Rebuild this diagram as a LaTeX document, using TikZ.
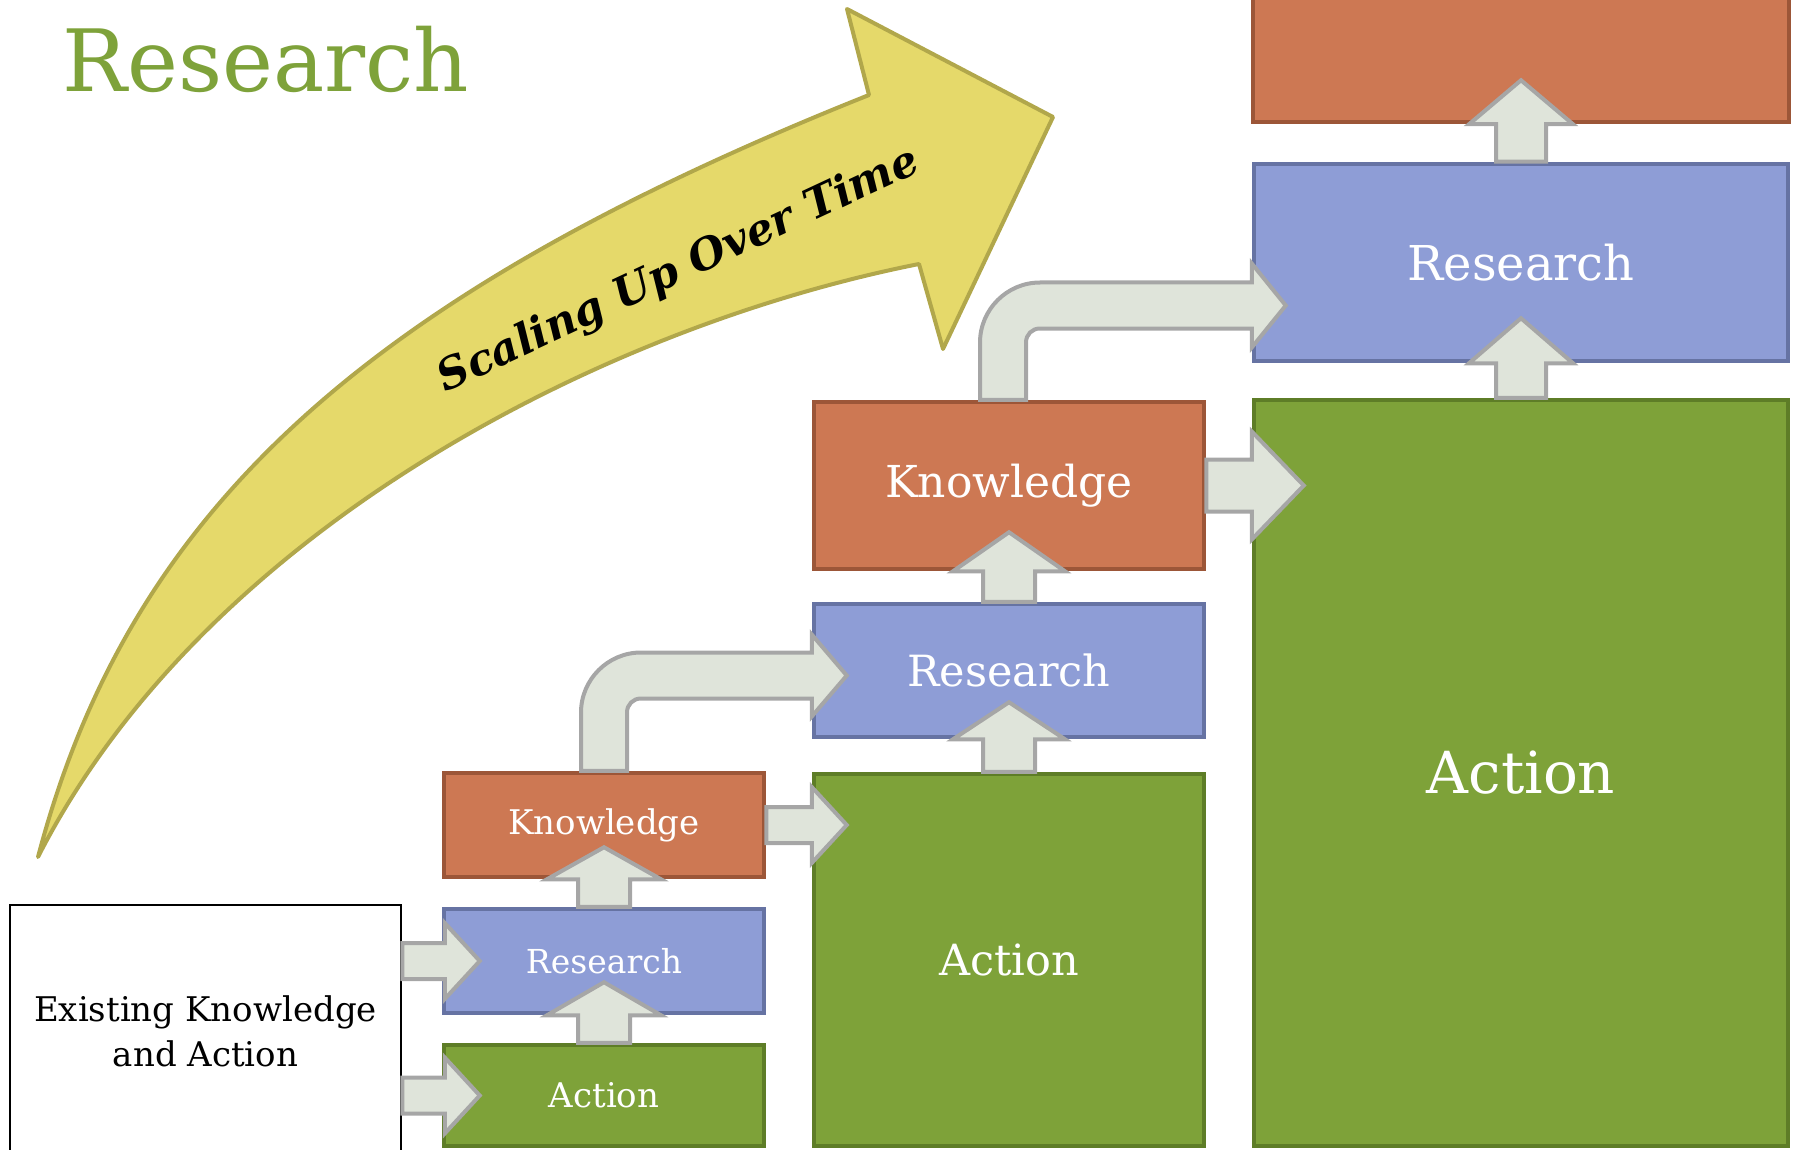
\documentclass[tikz,border=0pt]{standalone}
\usepackage{fontspec}
\setmainfont{DejaVu Serif}
\usetikzlibrary{calc, positioning}
\definecolor{actfill}{HTML}{7EA239}
\definecolor{actline}{HTML}{5E7D27}
\definecolor{resfill}{HTML}{8E9DD6}
\definecolor{resline}{HTML}{6673A3}
\definecolor{knowfill}{HTML}{CD7853}
\definecolor{knowline}{HTML}{9C5638}
\definecolor{arrfill}{HTML}{DFE4DA}
\definecolor{arrline}{HTML}{A6A6A6}
\definecolor{bigfill}{HTML}{E5D96A}
\definecolor{bigline}{HTML}{B1A74B}
\definecolor{titlegreen}{HTML}{7EA23A}
\tikzset{
        box/.style={draw, line width=4.5, inner sep=0pt, text=white, align=center}, % coloured boxes
        action/.style={box, fill=actfill, draw=actline},
        research/.style={box, fill=resfill, draw=resline},
        knowledge/.style={box, fill=knowfill, draw=knowline},
        boxsize/.style 2 args={minimum width=#1, minimum height=#2},
        txt/.style={font=\fontsize{#1}{#1}\selectfont},
        blockarrow/.style={fill=arrfill, draw=arrline, line width=4}, % grey block arrows
}
% block arrows: start, tip, shaft half width, head half width, head length
\newcommand{\blockup}[5]{%
  \draw[blockarrow] ($(#1)+(-#3,0)$) -- ($(#2)+(-#3,#5)$) -- ($(#2)+(-#4,#5)$) -- (#2)
    -- ($(#2)+(#4,#5)$) -- ($(#2)+(#3,#5)$) -- ($(#1)+(#3,0)$) -- cycle;}
\newcommand{\blockright}[5]{%
  \draw[blockarrow] ($(#1)+(0,-#3)$) -- ($(#2)+(-#5,-#3)$) -- ($(#2)+(-#5,-#4)$) -- (#2)
    -- ($(#2)+(-#5,#4)$) -- ($(#2)+(-#5,#3)$) -- ($(#1)+(0,#3)$) -- cycle;}
\newcommand{\blockbend}[5]{%
  \coordinate (bc) at (#1 |- #2);
  \draw[blockarrow] ($(#1)+(-#3,0)$) -- ($(bc)+(-#3,60-#3)$)
    .. controls ($(bc)+(-#3,27-#3)$) and ($(bc)+(27-#3,-#3)$) .. ($(bc)+(60-#3,-#3)$)
    -- ($(#2)+(-#5,-#3)$) -- ($(#2)+(-#5,-#4)$) -- (#2) -- ($(#2)+(-#5,#4)$) -- ($(#2)+(-#5,#3)$)
    -- ($(bc)+(#3+14,#3)$) .. controls ($(bc)+(#3+6,#3)$) and ($(bc)+(#3,#3+6)$) .. ($(bc)+(#3,#3+14)$)
    -- ($(#1)+(#3,0)$) -- cycle;}

\begin{document}
\begin{tikzpicture}[x=1pt, y=-1pt]
  \useasboundingbox (0,0) rectangle (1801,1150);
  % the big curved arrow
  \draw[fill=bigfill, draw=bigline, line width=4, line join=round] (38,857)
    .. controls (130,508) and (368,295) .. (869,95) -- (847,9) -- (1053,117) -- (943,349)
    -- (919,264) .. controls (592,329) and (201,537) .. (38,857) -- cycle;
  \node[font=\fontsize{43}{43}\selectfont\bfseries\itshape, rotate=25] (scaling) at (679,271) {Scaling Up Over Time};
  \node[anchor=base west, text=titlegreen, font=\fontsize{86}{86}\selectfont] (title) at (59,92) {Research};

  % where it starts
  \node[draw=black, line width=2.5, fill=white, align=center, boxsize={391}{252},
        font=\fontsize{34}{45}\selectfont] (ek) at (205.5,1031) {Existing Knowledge\\and Action};

  % first step
  \node[action, boxsize={320}{101}, txt=34] (a1) at (604,1095.5) {Action};
  \node[research, boxsize={320}{104}, txt=33] (r1) at (604,961) {Research};
  \node[knowledge, boxsize={320}{104}, txt=34] (k1) at (604,825) {Knowledge};
  % second step
  \node[action, boxsize={390}{372}, txt=43] (a2) at (1009,960) {Action};
  \node[research, boxsize={390}{133}, txt=43] (r2) at (1009,670.5) {Research};
  \node[knowledge, boxsize={390}{167}, txt=44] (k2) at (1009,485.5) {Knowledge};
  % third step
  \node[action, boxsize={534}{746}, txt=58] (a3) at (1521,773) {Action};
  \node[research, boxsize={534}{197}, txt=48] (r3) at (1521,262.5) {Research};
  \node[knowledge, boxsize={536}{138}] (k3) at (1521,53) {};

  % arrows
  \coordinate (s1) at (ek.east |- r1.west);
  \coordinate (t1) at ($(r1.west)+(38,0)$);
  \coordinate (s2) at (ek.east |- a1.west);
  \coordinate (t2) at ($(a1.west)+(38,0)$);
  \blockright{s1}{t1}{18}{38}{35}
  \blockright{s2}{t2}{18}{38}{35}

  \coordinate (t3) at ($(r1.south)+(0,-33)$);
  \coordinate (t4) at ($(k1.south)+(0,-32)$);
  \blockup{a1.north}{t3}{26}{57}{33}
  \blockup{r1.north}{t4}{26}{57}{32}
  \coordinate (t5) at ($(a2.west |- k1.east)+(35,0)$);
  \blockright{k1.east}{t5}{18}{38}{35}
  \coordinate (t6) at ($(r2.west)+(35,5)$);
  \blockbend{k1.north}{t6}{23}{41}{35}

  \coordinate (t7) at ($(r2.south)+(0,-37)$);
  \coordinate (t8) at ($(k2.south)+(0,-39)$);
  \blockup{a2.north}{t7}{26}{56}{37}
  \blockup{r2.north}{t8}{26}{56}{39}
  \coordinate (t9) at ($(a3.west |- k2.east)+(52,0)$);
  \blockright{k2.east}{t9}{26}{54}{52}
  \coordinate (s10) at ($(k2.north)+(-6,0)$);
  \coordinate (t10) at ($(r3.west)+(34,43)$);
  \blockbend{s10}{t10}{23}{42}{34}

  \coordinate (t11) at ($(r3.south)+(0,-45)$);
  \coordinate (t12) at ($(k3.south)+(0,-44)$);
  \blockup{a3.north}{t11}{25}{52}{45}
  \blockup{r3.north}{t12}{25}{52}{44}
\end{tikzpicture}
\end{document}
